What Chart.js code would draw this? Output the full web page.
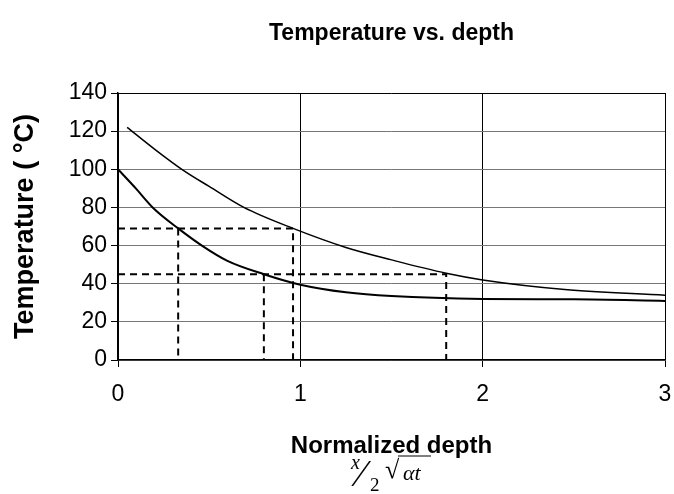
<!DOCTYPE html>
<html>
<head>
<meta charset="utf-8">
<script src="https://cdn.jsdelivr.net/npm/chart.js@4.4.0/dist/chart.umd.min.js"></script>
<style>
  html, body { margin: 0; padding: 0; background: #fff; }
  #wrap { width: 674px; height: 494px; }
</style>
</head>
<body>
<div id="wrap"><canvas id="c" width="674" height="494"></canvas></div>
<script>
// values
const chartTitle = 'Temperature vs. depth';
const xTitle = 'Normalized depth';
const yTitle = 'Temperature ( \u00B0C)';
const yTicks = [0, 20, 40, 60, 80, 100, 120, 140];
const xTicks = [0, 1, 2, 3];

// upper curve
const upperDepth = [0.05, 0.2, 0.35, 0.5, 0.69, 0.96, 1.25, 1.5, 1.8, 2.0, 2.45, 3.0];
const upperTemp  = [122, 110.6, 100, 91, 80, 69, 59, 52.5, 45.5, 42, 37, 34];

// lower curve
const lowerDepth = [0, 0.1, 0.19, 0.33, 0.46, 0.6, 0.8, 1.0, 1.25, 1.5, 2.0, 2.5, 3.0];
const lowerTemp  = [100, 89.7, 80, 69, 60, 52, 45, 39.5, 35.5, 33.5, 32, 31.8, 31];

// dashed guide lines
const guideA = [[0, 69], [0.96, 69], [0.96, 0]];
const guideB = [[0.33, 69], [0.33, 0]];
const guideC = [[0, 45], [1.8, 45], [1.8, 0]];
const guideD = [[0.8, 45], [0.8, 0]];

const pts = (xs, ys) => xs.map((x, i) => ({x: x, y: ys[i]}));
const pairs = arr => arr.map(p => ({x: p[0], y: p[1]}));

const curve = (data, w) => ({data, borderColor: '#000', borderWidth: w, pointRadius: 0, showLine: true, cubicInterpolationMode: 'monotone'});
const guide = data => ({data, borderColor: '#000', borderWidth: 2, borderDash: [7, 5], pointRadius: 0, showLine: true, tension: 0});

// title centred on plot area plus formula under x title
const extraText = {
  id: 'extraText',
  afterDraw(chart) {
    const ctx = chart.ctx, a = chart.chartArea;
    ctx.save();
    ctx.fillStyle = '#000';
    ctx.strokeStyle = '#000';
    ctx.textAlign = 'center';
    ctx.textBaseline = 'middle';
    ctx.font = 'bold 23px "Liberation Sans", Arial, sans-serif';
    ctx.fillText(chartTitle, (a.left + a.right) / 2, 34);
    // x / 2 sqrt(alpha t)
    ctx.textAlign = 'left';
    ctx.font = 'italic 20px "Liberation Serif", "Times New Roman", serif';
    ctx.fillText('x', 351, 464);
    ctx.font = '38px "Liberation Serif", serif';
    ctx.fillText('\u2044', 358, 476);
    ctx.font = '19px "Liberation Serif", serif';
    ctx.fillText('2', 370, 486);
    ctx.font = '26px "Liberation Serif", serif';
    ctx.fillText('\u221A', 385, 471);
    ctx.lineWidth = 1.2;
    ctx.beginPath();
    ctx.moveTo(398, 456);
    ctx.lineTo(431, 456);
    ctx.stroke();
    ctx.font = 'italic 22px "Liberation Serif", serif';
    ctx.fillText('\u03B1t', 403, 474);
    ctx.restore();
  }
};

new Chart(document.getElementById('c').getContext('2d'), {
  type: 'scatter',
  data: {
    datasets: [
      curve(pts(upperDepth, upperTemp), 1.5),
      curve(pts(lowerDepth, lowerTemp), 2),
      guide(pairs(guideA)),
      guide(pairs(guideB)),
      guide(pairs(guideC)),
      guide(pairs(guideD))
    ]
  },
  options: {
    responsive: false,
    animation: false,
    layout: {padding: {top: 93, right: 9, left: 0, bottom: 0}},
    plugins: {legend: {display: false}, tooltip: {enabled: false}, title: {display: false}},
    scales: {
      x: {
        type: 'linear', min: 0, max: 3,
        afterBuildTicks: s => { s.ticks = xTicks.map(v => ({value: v})); },
        afterFit: s => { s.height = 134; s.paddingLeft = 0; s.paddingRight = 0; },
        grid: {color: '#000', lineWidth: 1, tickLength: 7, tickColor: '#000'},
        border: {color: '#000', width: 1.5},
        ticks: {color: '#000', padding: 14, font: {family: '"Liberation Sans", Arial, sans-serif', size: 23}},
        title: {display: true, text: xTitle, color: '#000', padding: {top: 0, bottom: 33},
                font: {family: '"Liberation Sans", Arial, sans-serif', size: 24, weight: 'bold'}}
      },
      y: {
        type: 'linear', min: 0, max: 140,
        afterBuildTicks: s => { s.ticks = yTicks.map(v => ({value: v})); },
        afterFit: s => { s.width = 118; s.paddingTop = 0; s.paddingBottom = 0; },
        grid: {color: c => c.tick && c.tick.value === 140 ? '#000' : '#777', lineWidth: 1, tickLength: 7, tickColor: '#000'},
        border: {color: '#000', width: 1.5},
        ticks: {color: '#000', padding: 4, font: {family: '"Liberation Sans", Arial, sans-serif', size: 23}},
        title: {display: true, text: yTitle, color: '#000', padding: {top: 9, bottom: 0},
                font: {family: '"Liberation Sans", Arial, sans-serif', size: 27, weight: 'bold'}}
      }
    }
  },
  plugins: [extraText]
});
</script>
</body>
</html>
